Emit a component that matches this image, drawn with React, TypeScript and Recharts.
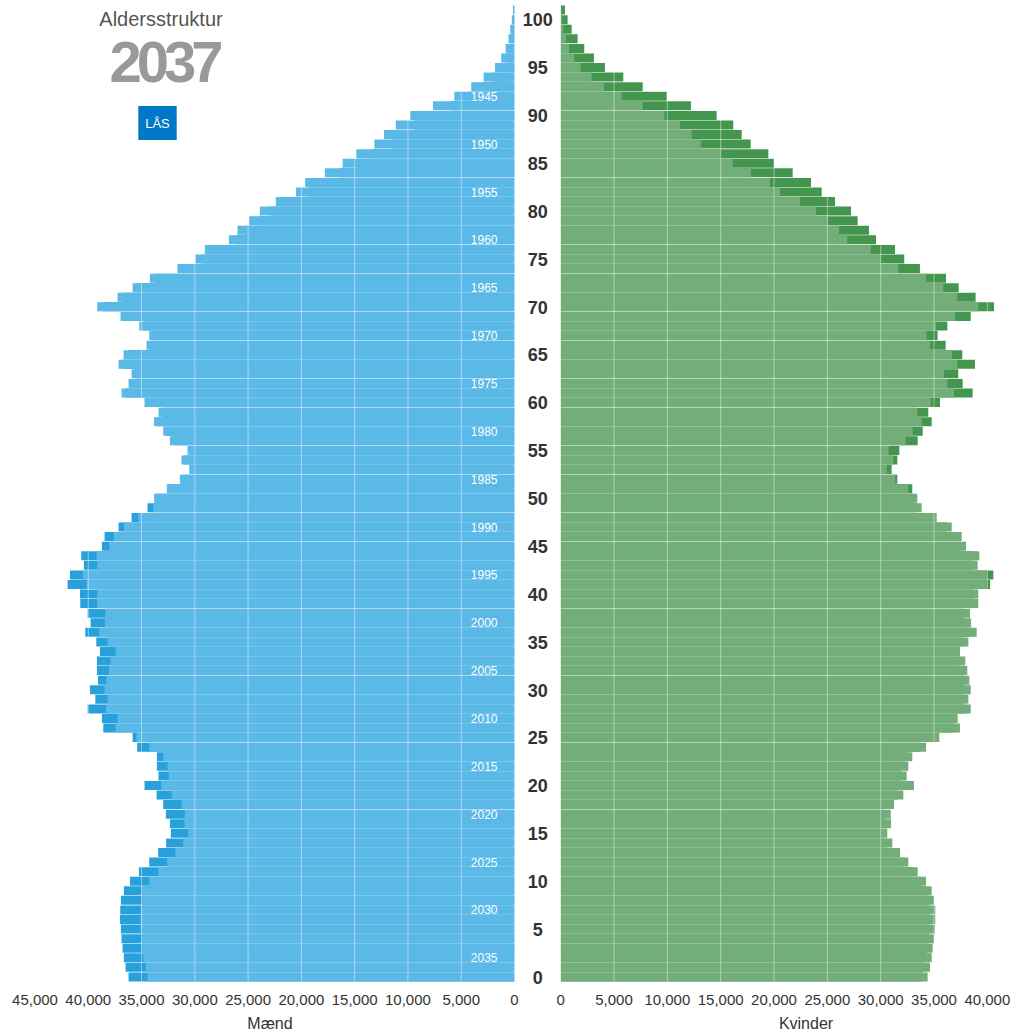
import { BarChart, Bar, XAxis, YAxis, ReferenceLine } from 'recharts';

const AAR = 2037;
const FONT = '"Liberation Sans", Arial, sans-serif';

// folketal pr. alder 0..101
const maendAar = [
  34440, 34590, 34840, 35000, 35000, 35090, 35090, 35090, 35000, 35000,
  34280, 33440, 32590, 31840, 31090, 30630, 30970, 30940, 31250, 32160,
  33160, 32440, 32560, 32970, 34280, 35470, 37440, 37250, 38340, 38190,
  38470, 38310, 38060, 37910, 37440, 38190, 38970, 38440, 38410, 39160,
  39160, 40160, 40530, 39160, 39220, 38030, 37590, 36660, 35310, 33910,
  33750, 32630, 31410, 30530, 31250, 30690, 32340, 32970, 33840, 33410,
  34720, 36880, 36220, 35940, 37160, 36690, 34530, 34280, 35220, 36970,
  39160, 37250, 35840, 34220, 31630, 29940, 29060, 26800, 26000, 24900,
  23900, 22400, 20500, 19650, 17800, 16130, 14840, 13150, 12250, 11140,
  9780, 7650, 5650, 4060, 2900, 1830, 1250, 830, 560, 400,
  250, 150,
];

const maendLaast = [
  36220, 36500, 36660, 36780, 36880, 36940, 37030, 37000, 36940, 36660,
  36090, 35250, 34280, 33440, 32690, 32250, 32340, 32720, 32970, 33590,
  34720, 33410, 33560, 33560, 35410, 35840, 38590, 38720, 40060, 39340,
  39840, 39090, 39190, 39190, 38910, 39250, 40280, 39780, 40060, 40750,
  40780, 41940, 41720, 40410, 40660, 38720, 38470, 37160, 35940, 34440,
  33800, 32400, 31200, 30300, 31000, 30400, 32000, 32700, 33500, 33100,
  34400, 36500, 35900, 35600, 36800, 36300, 34200, 33900, 34800, 36500,
  38700, 36800, 35400, 33700, 31100, 29400, 28400, 26100, 25200, 24000,
  22900, 21300, 19300, 18300, 16400, 14700, 13300, 11600, 10600, 9400,
  8000, 6000, 4300, 2900, 2000, 1200, 780, 480, 300, 190,
  110, 60,
];

const kvinderAar = [
  34400, 34620, 34780, 34870, 35000, 35090, 35120, 35120, 35000, 34780,
  34250, 33470, 32590, 31810, 31090, 30620, 30970, 30940, 31250, 32120,
  33120, 32440, 32590, 32960, 34250, 35500, 37430, 37220, 38440, 38220,
  38440, 38310, 38120, 37930, 37430, 38220, 39000, 38470, 38370, 39150,
  39150, 39940, 39940, 39090, 39250, 38000, 37590, 36660, 35250, 33840,
  33430, 32590, 31370, 30560, 31180, 30750, 32340, 33000, 33840, 33430,
  34690, 36870, 36250, 35930, 37180, 36680, 34620, 34310, 35190, 36970,
  39150, 37180, 35870, 34250, 31650, 30000, 29090, 26870, 26090, 25030,
  23940, 22440, 20560, 19620, 17840, 16130, 15000, 13150, 12280, 11190,
  9720, 7690, 5720, 4060, 2900, 1880, 1280, 780, 500, 250,
  120, 60,
];

const kvinderLaast = [
  33900, 34100, 34300, 34400, 34500, 34600, 34600, 34600, 34500, 34300,
  33800, 33000, 32100, 31300, 30600, 30100, 30400, 30400, 30700, 31600,
  32600, 31900, 32000, 32400, 33700, 35000, 36900, 36700, 37900, 37700,
  37900, 37800, 37600, 37400, 36900, 37700, 38500, 37900, 37800, 38600,
  38700, 40250, 40560, 38600, 38800, 37500, 37100, 36200, 34800, 33400,
  33100, 32960, 31560, 31030, 31560, 31750, 33470, 33940, 34780, 34460,
  35560, 38620, 37690, 37270, 38840, 37650, 36090, 35340, 36250, 38440,
  40620, 38900, 37310, 36120, 33680, 32210, 31340, 29560, 28900, 27840,
  27220, 25720, 24470, 23470, 21750, 20000, 19470, 17810, 16970, 16180,
  14620, 12210, 9940, 7690, 5870, 4150, 3120, 2210, 1590, 1030,
  650, 400,
];

const aldersTicks = [0, 5, 10, 15, 20, 25, 30, 35, 40, 45, 50, 55, 60, 65, 70, 75, 80, 85, 90, 95, 100];
const foedselsaar = [1945, 1950, 1955, 1960, 1965, 1970, 1975, 1980, 1985, 1990, 1995, 2000, 2005, 2010, 2015, 2020, 2025, 2030, 2035];
const vaerdiTicks = [0, 5000, 10000, 15000, 20000, 25000, 30000, 35000, 40000, 45000];

const rows = maendAar
  .map((_, age) => ({
    age,
    mL: maendAar[age],
    mD: maendLaast[age],
    fL: kvinderAar[age],
    fD: kvinderLaast[age],
  }))
  .reverse();

const fmt = (v: number) => v.toLocaleString('en-US');

const AgeTick = (props: any) => {
  const { x, y, payload } = props;
  return (
    <text x={x} y={y} dy={6.5} textAnchor="middle" fontSize={18} fontWeight="bold" fill="#333" fontFamily={FONT}>
      {payload.value}
    </text>
  );
};

const gridLines = vaerdiTicks
  .filter((v) => v > 0)
  .map((v) => <ReferenceLine key={v} x={v} stroke="#ffffff" strokeOpacity={0.45} strokeWidth={1} />);

export default function App() {
  return (
    <div style={{ position: 'relative', width: 1010, height: 1033, overflow: 'hidden', fontFamily: FONT }}>
      <style>{'body{margin:0}'}</style>

      <div style={{ position: 'absolute', left: 0, top: 0 }}>
        <BarChart
          width={530}
          height={1033}
          data={rows}
          layout="vertical"
          margin={{ top: 5.6, right: 15.5, bottom: 21, left: 35 }}
          barCategoryGap={0}
          barGap={-9}
        >
          <XAxis
            type="number"
            domain={[0, 45000]}
            reversed
            allowDataOverflow
            ticks={vaerdiTicks}
            interval={0}
            tickFormatter={fmt}
            axisLine={false}
            tickLine={false}
            tickSize={0}
            tickMargin={12}
            height={30}
            tick={{ fontSize: 15, fill: '#333', fontFamily: FONT }}
          />
          <Bar dataKey="mD" fill="#27a0dc" isAnimationActive={false} />
          <Bar dataKey="mL" fill="#5ab9e6" isAnimationActive={false} />
          {gridLines}
          <YAxis
            type="category"
            dataKey="age"
            orientation="right"
            mirror
            ticks={foedselsaar.map((y) => AAR - y)}
            interval={0}
            tickFormatter={(a: number) => String(AAR - a)}
            axisLine={false}
            tickLine={false}
            tickSize={0}
            tickMargin={17}
            tick={{ fontSize: 12, fill: '#ffffff', fontFamily: FONT }}
          />
        </BarChart>
      </div>

      <div style={{ position: 'absolute', left: 500, top: 0 }}>
        <BarChart
          width={560}
          height={1033}
          data={rows}
          layout="vertical"
          margin={{ top: 5.6, right: 19.3, bottom: 21, left: 14.7 }}
          barCategoryGap={0}
          barGap={-9}
        >
          <XAxis
            type="number"
            domain={[0, 45000]}
            allowDataOverflow
            ticks={vaerdiTicks}
            interval={0}
            tickFormatter={fmt}
            axisLine={false}
            tickLine={false}
            tickSize={0}
            tickMargin={12}
            height={30}
            tick={{ fontSize: 15, fill: '#333', fontFamily: FONT }}
          />
          <YAxis
            type="category"
            dataKey="age"
            width={46}
            ticks={aldersTicks}
            interval={0}
            axisLine={false}
            tickLine={false}
            tickSize={0}
            tickMargin={23}
            tick={AgeTick}
          />
          <Bar dataKey="fD" fill="#44964e" isAnimationActive={false} />
          <Bar dataKey="fL" fill="#73ad79" isAnimationActive={false} />
          {gridLines}
        </BarChart>
      </div>

      <svg width={1010} height={1033} style={{ position: 'absolute', left: 0, top: 0, pointerEvents: 'none' }}>
        <text x={161} y={26} textAnchor="middle" fontSize={20} fill="#555" fontFamily={FONT}>
          Aldersstruktur
        </text>
        <text x={164} y={81.5} textAnchor="middle" fontSize={58} fontWeight="bold" fill="#999" letterSpacing={-5} fontFamily={FONT}>
          {AAR}
        </text>
        <rect x={138.3} y={106} width={38.4} height={34} fill="#0078c8" />
        <text x={157.5} y={127.5} textAnchor="middle" fontSize={13} fill="#fff" fontFamily={FONT}>
          LÅS
        </text>
        <text x={270} y={1029} textAnchor="middle" fontSize={16} fill="#333" fontFamily={FONT}>
          Mænd
        </text>
        <text x={806} y={1029} textAnchor="middle" fontSize={16} fill="#333" fontFamily={FONT}>
          Kvinder
        </text>
      </svg>
    </div>
  );
}
